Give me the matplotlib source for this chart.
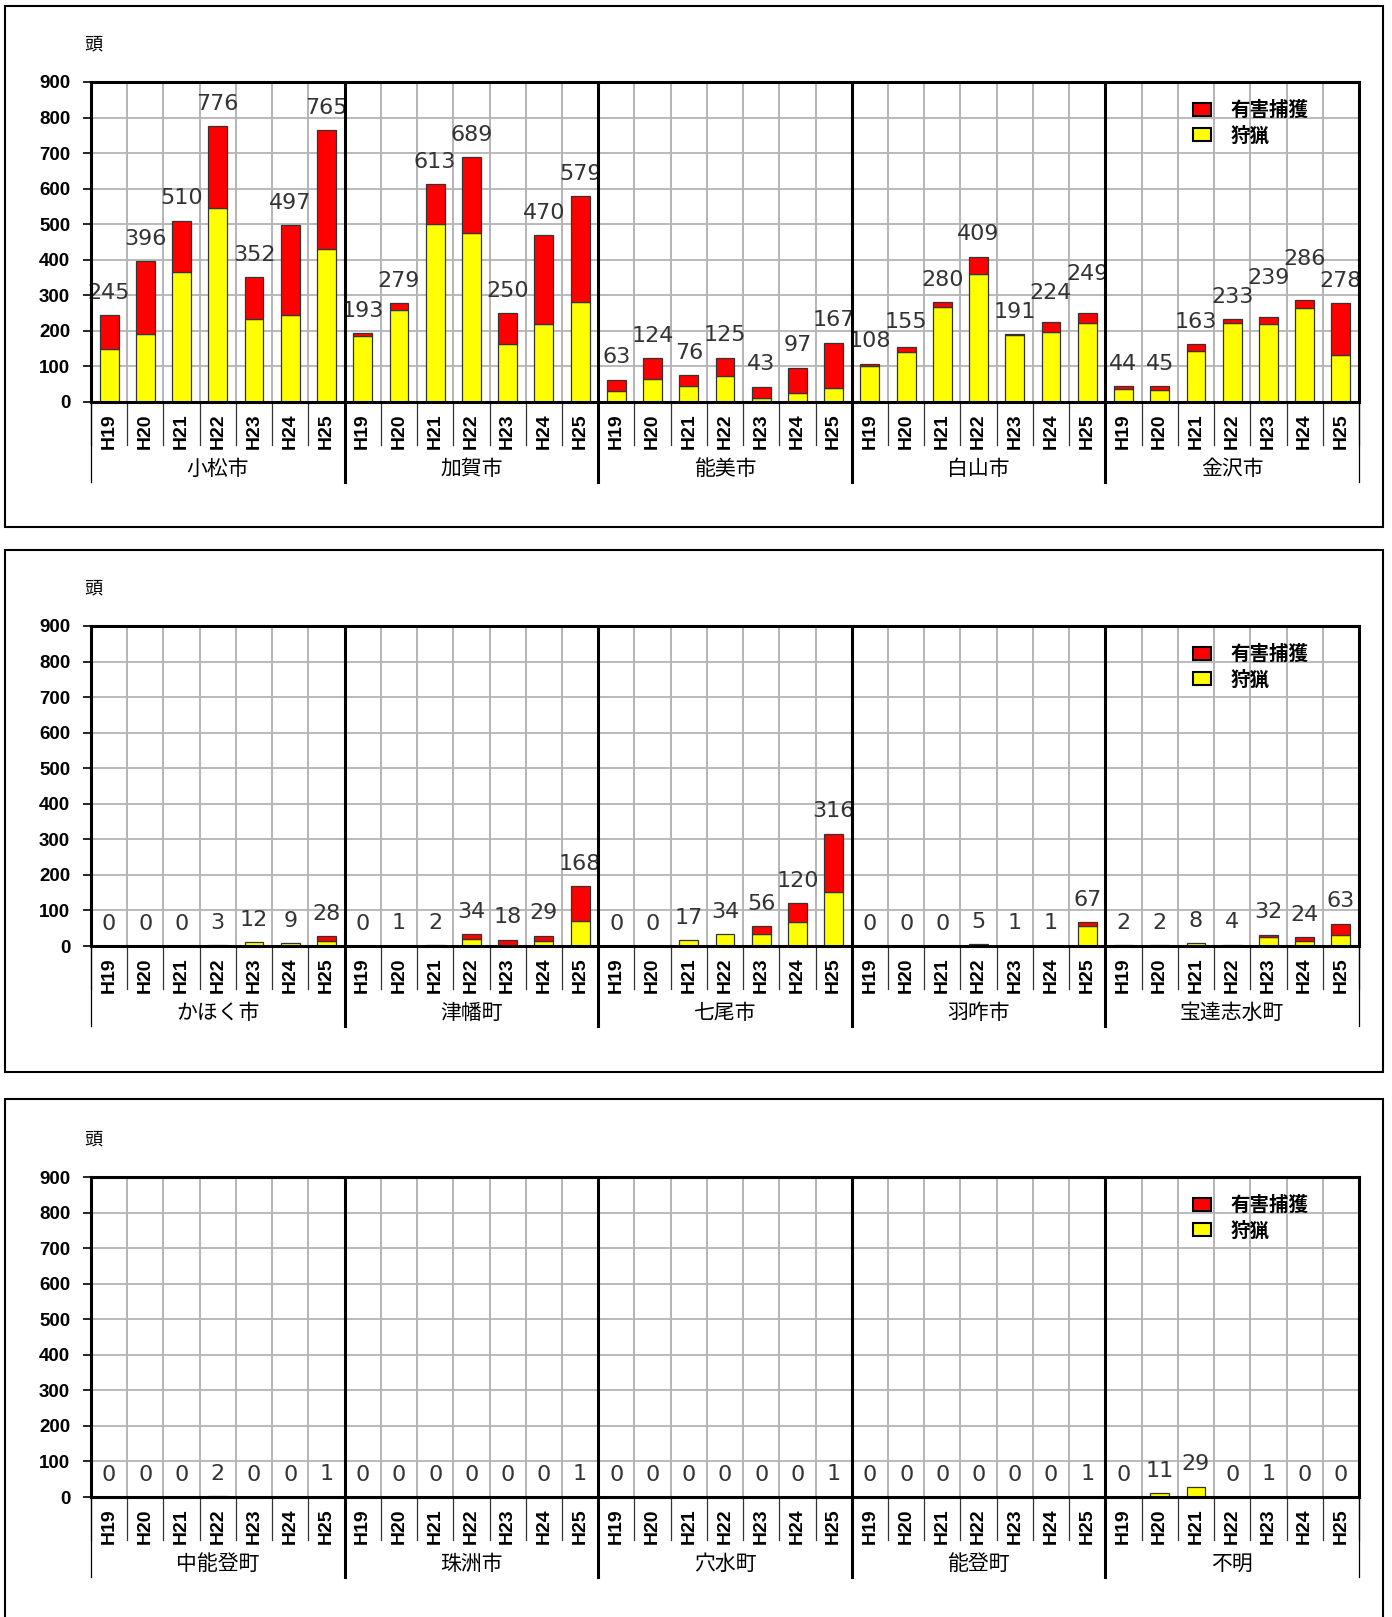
import numpy as np
import matplotlib
matplotlib.use("Agg")
import matplotlib.pyplot as plt
from matplotlib.patches import Rectangle, Patch
from matplotlib.transforms import blended_transform_factory

CJK = ["Noto Sans CJK JP", "DejaVu Sans"]

years = ["H19", "H20", "H21", "H22", "H23", "H24", "H25"]

# 3 panels, 5 municipalities each
panel_areas = [
    ["小松市", "加賀市", "能美市", "白山市", "金沢市"],
    ["かほく市", "津幡町", "七尾市", "羽咋市", "宝達志水町"],
    ["中能登町", "珠洲市", "穴水町", "能登町", "不明"],
]

# 狩猟 (hunting, yellow)
hunting = {
    "小松市": [150, 190, 366, 545, 234, 246, 429],
    "加賀市": [185, 260, 502, 474, 162, 218, 280],
    "能美市": [32, 66, 46, 74, 12, 24, 40],
    "白山市": [100, 141, 267, 361, 188, 197, 223],
    "金沢市": [36, 35, 143, 221, 219, 263, 132],
    "かほく市": [0, 0, 0, 3, 12, 9, 15],
    "津幡町": [0, 1, 2, 20, 0, 14, 69],
    "七尾市": [0, 0, 17, 34, 33, 67, 153],
    "羽咋市": [0, 0, 0, 5, 1, 1, 55],
    "宝達志水町": [2, 2, 8, 4, 24, 15, 32],
    "中能登町": [0, 0, 0, 2, 0, 0, 1],
    "珠洲市": [0, 0, 0, 0, 0, 0, 1],
    "穴水町": [0, 0, 0, 0, 0, 0, 1],
    "能登町": [0, 0, 0, 0, 0, 0, 1],
    "不明": [0, 11, 29, 0, 1, 0, 0],
}

# 有害捕獲 (nuisance capture, red)
nuisance = {
    "小松市": [95, 206, 144, 231, 118, 251, 336],
    "加賀市": [8, 19, 111, 215, 88, 252, 299],
    "能美市": [31, 58, 30, 51, 31, 73, 127],
    "白山市": [8, 14, 13, 48, 3, 27, 26],
    "金沢市": [8, 10, 20, 12, 20, 23, 146],
    "かほく市": [0, 0, 0, 0, 0, 0, 13],
    "津幡町": [0, 0, 0, 14, 18, 15, 99],
    "七尾市": [0, 0, 0, 0, 23, 53, 163],
    "羽咋市": [0, 0, 0, 0, 0, 0, 12],
    "宝達志水町": [0, 0, 0, 0, 8, 9, 31],
    "中能登町": [0, 0, 0, 0, 0, 0, 0],
    "珠洲市": [0, 0, 0, 0, 0, 0, 0],
    "穴水町": [0, 0, 0, 0, 0, 0, 0],
    "能登町": [0, 0, 0, 0, 0, 0, 0],
    "不明": [0, 0, 0, 0, 0, 0, 0],
}

y_ticks = list(range(0, 901, 100))

W, H = 1392, 1617
DPI = 100
fig = plt.figure(figsize=(W / DPI, H / DPI), dpi=DPI)

# panel geometry in pixels: (box top, box bottom, axes top, axes zero line)
panel_px = [(6, 527, 82, 402), (550, 1072, 626, 946), (1099, 1650, 1177, 1497)]
ax_left, ax_right = 91, 1359

LABEL_FS = 16
PT = DPI / 72.0


def place_labels(ax, x, total, slot_px):
    # push a label up when it would collide with its left neighbour
    base = 16 * PT
    h = LABEL_FS * PT * 0.85
    prev = None
    for xi, t in zip(x, total):
        s = str(t)
        w = len(s) * 0.636 * LABEL_FS * PT
        top = ax.transData.transform((xi, t))[1]
        y = top + base
        if prev is not None:
            pw, py = prev
            if (w + pw) / 2 > slot_px + 1 and abs(y - py) < h:
                y = py + h
        prev = (w, y)
        ax.annotate(s, (xi, t), xytext=(0, (y - top) / PT), textcoords="offset points",
                    ha="center", va="center", fontsize=LABEL_FS, color="#333333",
                    family="DejaVu Sans", zorder=5)


for areas, (box_top, box_bot, ax_top, ax_zero) in zip(panel_areas, panel_px):
    fig.add_artist(Rectangle((5 / W, 1 - box_bot / H), (1383 - 5) / W, (box_bot - box_top) / H,
                             transform=fig.transFigure, fill=False, ec="black", lw=1.5))
    ax = fig.add_axes([ax_left / W, 1 - ax_zero / H, (ax_right - ax_left) / W, (ax_zero - ax_top) / H])
    n_years = len(years)
    n = n_years * len(areas)
    x = np.arange(n)
    hunt = np.concatenate([hunting[a] for a in areas])
    nuis = np.concatenate([nuisance[a] for a in areas])
    total = hunt + nuis

    hm = hunt > 0
    ax.bar(x[hm], hunt[hm], width=0.52, color="#FFFF00", edgecolor="#333333", lw=0.9, zorder=3)
    nm = nuis > 0
    ax.bar(x[nm], nuis[nm], bottom=hunt[nm], width=0.52, color="#FF0000", edgecolor="#333333", lw=0.9, zorder=3)

    ax.set_xlim(-0.5, n - 0.5)
    ax.set_ylim(0, 900)
    place_labels(ax, x, total, (ax_right - ax_left) / n)

    ax.set_yticks(y_ticks)
    ax.set_yticklabels([str(v) for v in y_ticks], fontsize=13.5, fontweight="bold",
                       family="Liberation Sans")
    ax.tick_params(axis="y", length=6, width=1.2, pad=9, direction="out")
    ax.set_xticks(x)
    ax.set_xticklabels(years * len(areas), rotation=90, fontsize=14, fontweight="bold",
                       family="Liberation Sans")
    ax.tick_params(axis="x", length=0, pad=8)
    ax.set_xticks(np.arange(n + 1) - 0.5, minor=True)
    ax.tick_params(axis="x", which="minor", length=0)
    ax.grid(axis="y", which="major", color="#b4b4b4", lw=1.3, zorder=0)
    ax.grid(axis="x", which="minor", color="#a0a0a0", lw=1.1, zorder=0)
    ax.set_axisbelow(True)
    for sp in ax.spines.values():
        sp.set_linewidth(2.2)
        sp.set_color("black")
        sp.set_zorder(6)

    # multi-level category axis lines below the plot
    trans = blended_transform_factory(ax.transData, ax.transAxes)
    h_ax = ax_zero - ax_top
    slot_end = -(445 - 402) / h_ax
    group_end = -(482 - 402) / h_ax
    for b in np.arange(n + 1) - 0.5:
        ax.plot([b, b], [0, slot_end], transform=trans, color="#333333", lw=0.9, clip_on=False)
    for g in range(len(areas) + 1):
        b = g * n_years - 0.5
        lw = 2.2 if 0 < g < len(areas) else 0.9
        ax.plot([b, b], [0, group_end], transform=trans, color="black", lw=lw, clip_on=False, zorder=6)
        if 0 < g < len(areas):
            ax.axvline(b, color="black", lw=2.2, zorder=6)
    for g, name in enumerate(areas):
        ax.text(g * n_years + (n_years - 1) / 2, -(469 - 402) / h_ax, name, transform=trans,
                ha="center", va="center", fontsize=15, family=CJK)

    ax.text(2 / (ax_right - ax_left), (402 - 45) / h_ax, "頭", transform=ax.transAxes,
            ha="center", va="center", fontsize=13, family=CJK)

    handles = [Patch(facecolor="#FF0000", edgecolor="black", lw=1.5),
               Patch(facecolor="#FFFF00", edgecolor="black", lw=1.5)]
    ax.legend(handles, ["有害捕獲", "狩猟"], loc="upper left", bbox_to_anchor=(0.855, 0.995),
              frameon=False, handlelength=0.95, handleheight=0.65, handletextpad=1.0,
              labelspacing=0.3, prop={"family": CJK, "size": 14, "weight": "bold"})

fig.savefig("out.png", dpi=DPI)
